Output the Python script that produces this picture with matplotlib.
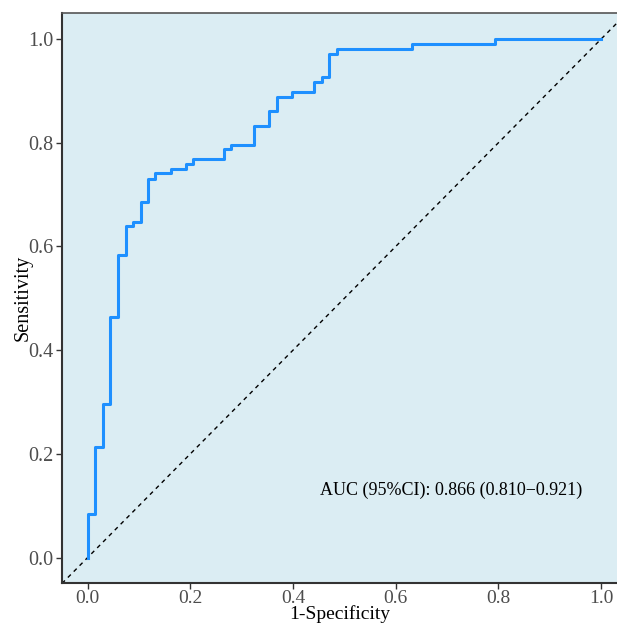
import matplotlib.pyplot as plt

# ROC points (1-specificity, sensitivity)
fpr = [0.0, 0.0, 0.015, 0.029, 0.044, 0.059, 0.074, 0.088, 0.103, 0.118,
       0.132, 0.162, 0.191, 0.206, 0.265, 0.279, 0.324, 0.353, 0.368, 0.397,
       0.441, 0.456, 0.471, 0.485, 0.632, 0.794, 1.0]
tpr = [0.0, 0.083, 0.213, 0.296, 0.463, 0.583, 0.639, 0.648, 0.685, 0.731,
       0.741, 0.750, 0.759, 0.769, 0.787, 0.796, 0.833, 0.861, 0.889, 0.898,
       0.917, 0.926, 0.972, 0.981, 0.991, 1.0, 1.0]

ticks = [0.0, 0.2, 0.4, 0.6, 0.8, 1.0]
auc_text = "AUC (95%CI): 0.866 (0.810\u22120.921)"

plt.rcParams['font.family'] = ['Liberation Serif', 'DejaVu Serif']

fig = plt.figure(figsize=(6.17, 6.26), dpi=100)
ax = fig.add_axes([0.1005, 0.068, 0.8995, 0.911])
ax.set_facecolor('#dbedf3')

ax.axline((0, 0), slope=1, color='black', lw=1.0, ls=(0, (3, 3)))
ax.step(fpr, tpr, where='post', color='#1e90ff', lw=2.2)

ax.text(0.707, 0.13, auc_text, ha='center', va='center', fontsize=13)

ax.set_xlim(-0.05, 1.031)
ax.set_ylim(-0.05, 1.05)
ax.set_xticks(ticks)
ax.set_yticks(ticks)
ax.set_xticklabels([f"{t:.1f}" for t in ticks])
ax.set_yticklabels([f"{t:.1f}" for t in ticks])
ax.tick_params(axis='both', labelsize=14.5, labelcolor='#4d4d4d', color='#333333',
               length=4, width=1, pad=2)
ax.tick_params(axis='x', pad=0.5, labelsize=14)

for s in ['left', 'bottom']:
    ax.spines[s].set_color('#333333')
    ax.spines[s].set_linewidth(1.5)
ax.spines['top'].set_color('#555555')
ax.spines['top'].set_linewidth(1.2)
ax.spines['right'].set_visible(False)

ax.set_xlabel("1-Specificity", fontsize=14, labelpad=-1)
ax.set_ylabel("Sensitivity", fontsize=14.5, labelpad=-3)

fig.savefig("out.png", dpi=100)
